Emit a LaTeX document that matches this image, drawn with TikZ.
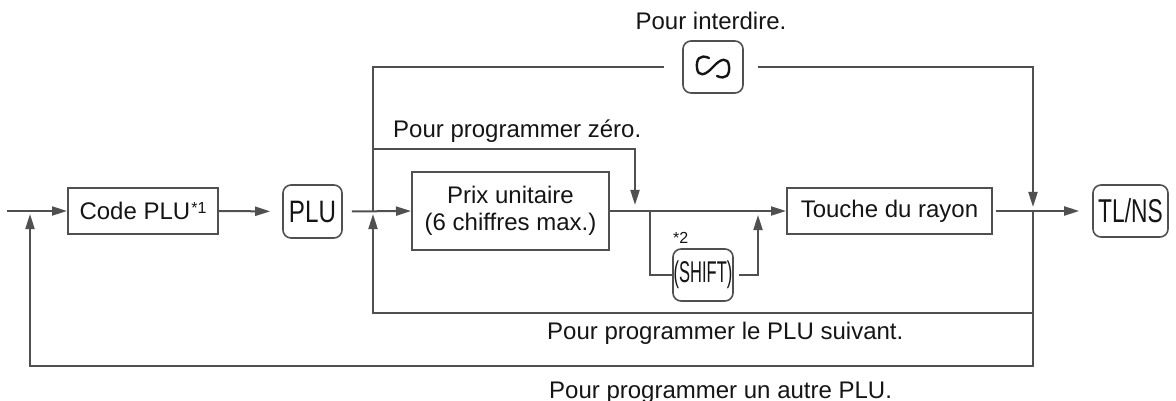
\documentclass[tikz,border=0pt]{standalone}
\usepackage{fontspec}
\setmainfont{Liberation Sans}
\usetikzlibrary{arrows.meta,calc}
\definecolor{ln}{HTML}{505050}
\definecolor{tx}{HTML}{151515}
\tikzset{
  ln/.style={draw=ln, line width=2pt},
  arr/.style={ln, -{Triangle[length=15pt,width=9pt]}},
  boxn/.style={draw=ln, line width=2pt, inner sep=0pt, align=center, text=tx, font=\fontsize{24}{27}\selectfont},
  keyn/.style={draw=ln, line width=1.6pt, rounded corners=8pt, inner sep=0pt, text=tx},
  lbl/.style={text=tx, inner sep=0pt, font=\fontsize{24}{27}\selectfont}
}
\begin{document}
\begin{tikzpicture}[x=1pt,y=-1pt]
\useasboundingbox (0,0) rectangle (1176,401);
% nodes
\node[boxn, minimum width=150pt, minimum height=46pt] (code) at (143,211) {Code PLU\kern1pt{\fontsize{16}{16}\selectfont\raisebox{6.5pt}{*1}}};
\node[keyn, minimum width=59pt, minimum height=53pt] (plu) at (312.5,211.5) {\fontsize{31}{31}\selectfont\scalebox{0.78}[1]{PLU}};
\node[boxn, minimum width=197pt, minimum height=78pt] (prix) at (510.5,211) {Prix unitaire\\(6 chiffres max.)};
\node[boxn, minimum width=205pt, minimum height=46pt] (touche) at (889.5,211) {Touche du rayon};
\node[keyn, minimum width=75pt, minimum height=52pt] (tlns) at (1130.5,211) {\fontsize{33}{33}\selectfont\scalebox{0.69}[1]{TL/NS}};
\node[keyn, minimum width=60pt, minimum height=52pt] (shift) at (703,275) {\fontsize{30}{30}\selectfont\scalebox{0.55}[1]{(SHIFT)}};
\node[keyn, minimum width=60pt, minimum height=52pt] (inf) at (713,67) {};
\draw[tx, line width=2.4pt, line cap=round]
  ($(inf.center)+(-4,-9)$) .. controls +(-9,-4) and +(-1,-9) .. ($(inf.center)+(-16,1)$)
  .. controls +(1,9) and +(-8,9) .. (inf.center)
  .. controls +(8,-9) and +(-1,-9) .. ($(inf.center)+(16,-1)$)
  .. controls +(1,9) and +(9,4) .. ($(inf.center)+(4,9)$);
% labels
\node[lbl, anchor=base] (l1) at (711,30) {Pour interdire.};
\node[lbl, anchor=base west] (l2) at (393,138) {Pour programmer zéro.};
\node[lbl, anchor=base west] (l3) at (547,339) {Pour programmer le PLU suivant.};
\node[lbl, anchor=base west] (l4) at (549,398) {Pour programmer un autre PLU.};
\node[text=tx, inner sep=0pt, anchor=base west, font=\fontsize{16}{16}\selectfont] (l5) at (673,243) {*2};
% coordinates
\coordinate (start) at (7,211);
\coordinate (jL) at (30,211);
\coordinate (jA) at (373,211);
\coordinate (jC) at (635,211);
\coordinate (jD) at (650,211);
\coordinate (jE) at (758,211);
\coordinate (jB) at (1033,211);
\coordinate (zr) at (373,149);
\coordinate (nxt) at (1033,313);
\coordinate (bot) at (1033,366);
% connectors
\draw[arr] (start) -- (code.west);
\draw[arr, shorten >=12pt] (code.east) -- (plu.west);
\draw[arr, shorten <=9pt] (plu.east) -- (prix.west);
\draw[ln] (jA) |- ([xshift=-18pt]inf.west);
\draw[arr, shorten >=4pt] ([xshift=14pt]inf.east) -| (jB);
\draw[arr, shorten >=3pt] (jB) -- (bot) -| (jL);
\draw[arr, shorten >=3pt] (nxt) -| (jA);
\draw[arr, shorten >=6pt] (zr) -| (jC);
\draw[arr] (prix.east) -- (touche.west);
\draw[ln] (jD) |- (shift.west);
\draw[arr, shorten >=4pt] ([xshift=5pt]shift.east) -| (jE);
\draw[arr, shorten >=13pt, shorten <=3pt] (touche.east) -- (tlns.west);
\end{tikzpicture}
\end{document}
